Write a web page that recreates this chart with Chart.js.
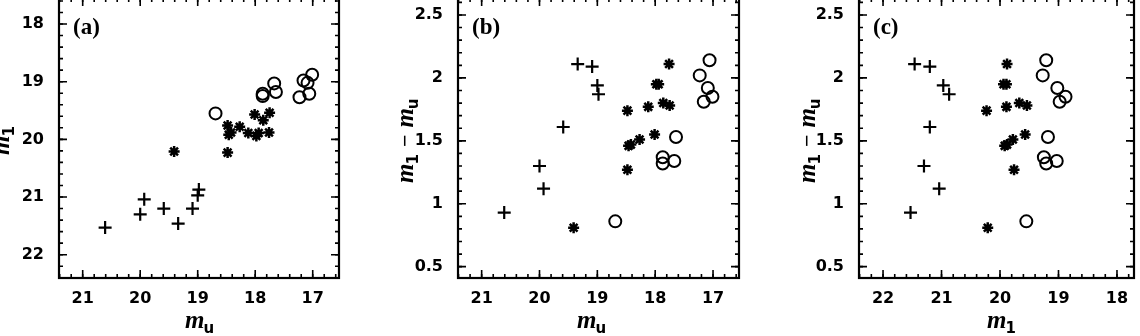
<!DOCTYPE html>
<html lang="en">
<head>
<meta charset="UTF-8">
<title>m1 / mu diagrams</title>
<script src="https://cdn.jsdelivr.net/npm/chart.js"></script>
<style>
  body { margin: 0; width: 1140px; height: 336px; overflow: hidden; background: #fff; position: relative; }
  .panel { position: absolute; }
</style>
</head>
<body>
<div class="panel" id="boxA"><canvas id="chartA"></canvas></div>
<div class="panel" id="boxB"><canvas id="chartB"></canvas></div>
<div class="panel" id="boxC"><canvas id="chartC"></canvas></div>

<script>
// plus signs
const plusMu    = [20.61, 20.00, 19.93, 19.59, 19.34, 19.09, 19.00, 18.98];
const plusM1    = [21.53, 21.30, 21.04, 21.20, 21.46, 21.20, 20.97, 20.87];
const plusColor = [0.93, 1.30, 1.12, 1.61, 2.11, 2.09, 1.94, 1.87];

// asterisks
const starMu    = [19.41, 18.48, 18.48, 18.46, 18.42, 18.27, 18.12, 18.01, 17.98, 17.94, 17.86, 17.75, 17.76];
const starM1    = [20.21, 19.76, 20.23, 19.92, 19.88, 19.78, 19.89, 19.57, 19.94, 19.89, 19.67, 19.54, 19.88];
const starColor = [0.81, 1.27, 1.74, 1.46, 1.47, 1.51, 1.77, 1.55, 1.95, 1.95, 1.80, 1.78, 2.11];

// open circles
const circMu    = [18.69, 17.87, 17.87, 17.67, 17.64, 17.23, 17.06, 17.09, 17.16, 17.01];
const circM1    = [19.55, 19.25, 19.21, 19.03, 19.18, 19.27, 19.21, 19.02, 18.98, 18.88];
const circColor = [0.86, 1.37, 1.32, 1.34, 1.53, 2.02, 2.14, 1.92, 1.81, 1.85];

// tick labels
const muTicks    = [21, 20, 19, 18, 17];
const m1TicksA   = [18, 19, 20, 21, 22];
const m1TicksC   = [22, 21, 20, 19, 18];
const colorTicks = [0.5, 1, 1.5, 2, 2.5];

const YW = 70, PT = 32, PR = 12, XH = 60;   // axis box sizes
const tickFont = { family: '"DejaVu Sans"', size: 16, weight: 'bold' };

function pts(xs, ys) {
    return xs.map((x, i) => ({ x: x, y: ys[i] }));
}

function sets(xs, ys) {
    return [
        { data: pts(xs[0], ys[0]), pointStyle: 'cross', pointRadius: 6.5, borderWidth: 2.2, borderColor: '#000' },
        { data: pts(xs[1], ys[1]), pointStyle: 'star', pointRadius: 5.5, borderWidth: 2.5, borderColor: '#000' },
        { data: pts(xs[2], ys[2]), pointStyle: 'circle', pointRadius: 6, borderWidth: 2, borderColor: '#000', backgroundColor: 'rgba(0,0,0,0)' }
    ];
}

// draw "m" with a subscript, returns advance
function mSub(ctx, x, y, sub) {
    ctx.font = 'bold italic 25px "Liberation Serif"';
    ctx.fillText('m', x, y);
    let w = ctx.measureText('m').width;
    ctx.font = 'bold 15px "DejaVu Sans"';
    ctx.fillText(sub, x + w - 1, y + 5);
    return w - 1 + ctx.measureText(sub).width;
}

// frame, inward ticks, titles and panel letter
const framePlugin = {
    id: 'frame',
    afterDraw(chart, args, o) {
        const ctx = chart.ctx, a = chart.chartArea;
        const xs = chart.scales.x, ys = chart.scales.y;
        ctx.save();
        ctx.strokeStyle = '#000';
        ctx.fillStyle = '#000';
        ctx.lineWidth = 1.6;
        function xTick(v, len) {
            const p = xs.getPixelForValue(v);
            ctx.beginPath();
            ctx.moveTo(p, a.bottom); ctx.lineTo(p, a.bottom - len);
            ctx.moveTo(p, a.top); ctx.lineTo(p, a.top + len);
            ctx.stroke();
        }
        function yTick(v, len) {
            const p = ys.getPixelForValue(v);
            ctx.beginPath();
            ctx.moveTo(a.left, p); ctx.lineTo(a.left + len, p);
            ctx.moveTo(a.right, p); ctx.lineTo(a.right - len, p);
            ctx.stroke();
        }
        const x0 = Math.min(xs.min, xs.max), x1 = Math.max(xs.min, xs.max);
        for (let v = Math.ceil(x0 / o.minorX) * o.minorX; v <= x1; v += o.minorX) xTick(v, 4);
        for (let v = Math.ceil(x0); v <= x1; v += 1) xTick(v, 8);
        const y0 = Math.min(ys.min, ys.max), y1 = Math.max(ys.min, ys.max);
        for (let v = Math.ceil(y0 / o.minorY) * o.minorY; v <= y1; v += o.minorY) yTick(v, 4);
        for (let v = Math.ceil(y0 / o.majorY) * o.majorY; v <= y1; v += o.majorY) yTick(v, 8);

        ctx.lineWidth = 2.2;
        ctx.strokeRect(a.left, a.top, a.right - a.left, a.bottom - a.top);

        // panel letter
        ctx.font = 'bold 23px "Liberation Serif"';
        ctx.textBaseline = 'alphabetic';
        ctx.fillText(o.letter, a.left + 14, a.top + 36);

        // x title
        mSub(ctx, a.left + o.xTitleDx, a.bottom + 50, o.xSub);

        // y title, rotated
        ctx.save();
        ctx.translate(a.left + o.yTitleDx, a.top + o.yTitleStart);
        ctx.rotate(-Math.PI / 2);
        let w = mSub(ctx, 0, 0, o.ySub[0]);
        if (o.ySub.length > 1) {
            ctx.font = 'bold 22px "Liberation Serif"';
            ctx.fillText('\u2212', w + 7, -1);
            w += 7 + ctx.measureText('\u2212').width + 7;
            mSub(ctx, w, 0, o.ySub[1]);
        }
        ctx.restore();
        ctx.restore();
    }
};

function makePanel(id, boxId, box, xr, yr, yRev, xTicks, yTicks, datasets, frame) {
    const w = YW + (box.right - box.left) + PR;
    const h = PT + (box.bottom - box.top) + XH;
    const div = document.getElementById(boxId);
    div.style.left = (box.left - YW) + 'px';
    div.style.top = (box.top - PT) + 'px';
    const cv = document.getElementById(id);
    cv.width = w; cv.height = h;
    cv.style.width = w + 'px'; cv.style.height = h + 'px';
    return new Chart(cv.getContext('2d'), {
        type: 'scatter',
        data: { datasets: datasets },
        plugins: [framePlugin],
        options: {
            responsive: false,
            animation: false,
            devicePixelRatio: 1,
            layout: { padding: { top: PT, right: PR, left: 0, bottom: 0 } },
            plugins: { legend: { display: false }, tooltip: { enabled: false }, frame: frame },
            scales: {
                x: {
                    type: 'linear', reverse: true, min: xr[1], max: xr[0],
                    afterBuildTicks: s => { s.ticks = xTicks.map(v => ({ value: v })); },
                    afterFit: s => { s.height = XH; },
                    grid: { display: false, drawTicks: false }, border: { display: false },
                    ticks: { font: tickFont, color: '#000', padding: 11, maxRotation: 0, autoSkip: false, callback: v => String(v) }
                },
                y: {
                    type: 'linear', reverse: yRev, min: Math.min(yr[0], yr[1]), max: Math.max(yr[0], yr[1]),
                    afterBuildTicks: s => { s.ticks = yTicks.map(v => ({ value: v })); },
                    afterFit: s => { s.width = YW; },
                    grid: { display: false, drawTicks: false }, border: { display: false },
                    ticks: { font: tickFont, color: '#000', padding: 15, autoSkip: false, callback: v => String(v) }
                }
            }
        }
    });
}

makePanel('chartA', 'boxA', { left: 59, top: -2, right: 339, bottom: 278 },
    [21.412, 16.543], [17.549, 22.404], true, muTicks, m1TicksA,
    sets([plusMu, starMu, circMu], [plusM1, starM1, circM1]),
    { letter: '(a)', minorX: 0.2, minorY: 0.2, majorY: 1, xSub: 'u', xTitleDx: 126,
      ySub: ['1'], yTitleDx: -50, yTitleStart: 157 });

makePanel('chartB', 'boxB', { left: 458, top: -2, right: 739, bottom: 278 },
    [21.409, 16.551], [0.410, 2.635], false, muTicks, colorTicks,
    sets([plusMu, starMu, circMu], [plusColor, starColor, circColor]),
    { letter: '(b)', minorX: 0.2, minorY: 0.1, majorY: 0.5, xSub: 'u', xTitleDx: 119,
      ySub: ['1', 'u'], yTitleDx: -45, yTitleStart: 185 });

makePanel('chartC', 'boxC', { left: 859, top: -2, right: 1134, bottom: 278 },
    [22.411, 17.709], [0.410, 2.635], false, m1TicksC, colorTicks,
    sets([plusM1, starM1, circM1], [plusColor, starColor, circColor]),
    { letter: '(c)', minorX: 0.2, minorY: 0.1, majorY: 0.5, xSub: '1', xTitleDx: 128,
      ySub: ['1', 'u'], yTitleDx: -44, yTitleStart: 185 });
</script>
</body>
</html>
